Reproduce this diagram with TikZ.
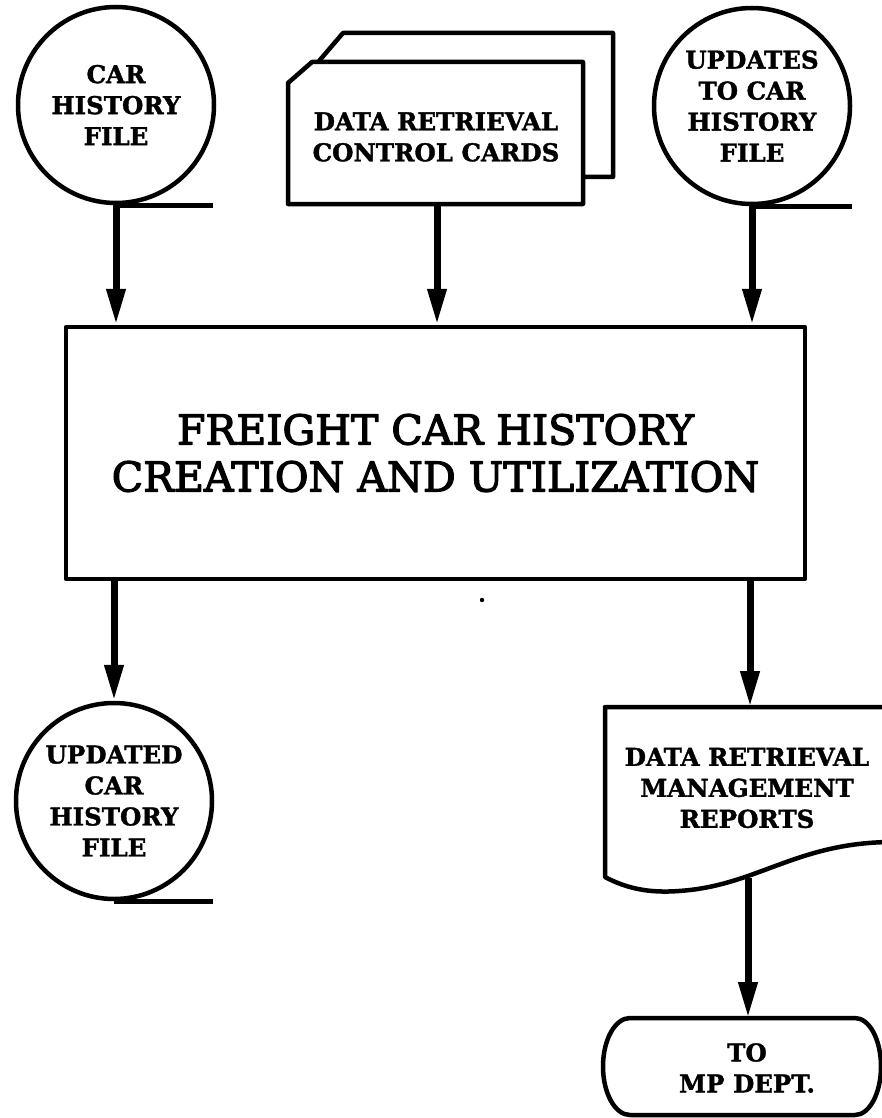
\documentclass[tikz,border=0pt]{standalone}
\usepackage{fontspec}
\setmainfont{DejaVu Serif}
\newfontfamily\boxfont[FakeBold=3]{DejaVu Serif}
\newfontfamily\lblfont[FakeBold=1.5]{DejaVu Serif Bold}
\usetikzlibrary{arrows.meta}
\begin{document}
\begin{tikzpicture}[x=1pt,y=1pt,
  lbl/.style={font=\lblfont\fontsize{24.5}{31}\selectfont, align=center, inner sep=0pt},
  ln/.style={line width=4.5pt, line join=round},
  filecircle/.style={circle, draw, ln, minimum size=196pt, inner sep=0pt, lbl},
  flow/.style={line width=7pt, -{Triangle[length=36pt,width=18pt]}},
  mainbox/.style={draw, ln, minimum width=739pt, minimum height=252pt, inner sep=0pt,
     font=\boxfont\fontsize{41}{47}\selectfont, align=center},
]
\useasboundingbox (0,0) rectangle (881,-1118);
% top-left file
\node[filecircle] (chf) at (116,-105) {CAR\\HISTORY\\FILE};
\draw[ln] (chf.south) -- ++(97,0);
% top-right file
\node[filecircle] (upd) at (752,-106) {UPDATES\\TO CAR\\HISTORY\\FILE};
\draw[ln] (upd.south) -- ++(100,0);
% cards
\draw[ln] (319,-61) -- (343,-33) -- (613,-33) -- (613,-177) -- (583,-177);
\draw[ln] (288,-83) -- (312,-62) -- (583,-62) -- (583,-204) -- (288,-204) -- cycle;
\node[lbl] (cards) at (436,-137) {DATA RETRIEVAL\\CONTROL CARDS};
\coordinate (cardsbot) at (437,-204);
% main process box
\node[mainbox] (proc) at (435.5,-453) {FREIGHT CAR HISTORY\\CREATION AND UTILIZATION};
% bottom-left file
\node[filecircle] (out) at (114,-801) {UPDATED\\CAR\\HISTORY\\FILE};
\draw[ln] (out.south) -- ++(99,0);
% document
\draw[ln] (890,-707) -- (605,-707) -- (605,-877)
  .. controls (635,-893) and (662,-893) .. (690,-890)
  .. controls (760,-882) and (800,-843) .. (890,-842);
\node[lbl] (doc) at (747,-788) {DATA RETRIEVAL\\MANAGEMENT\\REPORTS};
\coordinate (doctop) at (750,-707);
\coordinate (docbot) at (748,-878);
% terminal
\draw[ln] (630,-1018) -- (855,-1018) arc[start angle=90, end angle=-90, x radius=26, y radius=48.5]
  -- (630,-1115) arc[start angle=270, end angle=90, x radius=27, y radius=48.5] -- cycle;
\node[lbl] (term) at (747,-1068) {TO\\MP DEPT.};
\coordinate (termtop) at (748,-1018);
% connectors
\draw[flow] (chf.south) -- (proc.north -| chf.south);
\draw[flow] (cardsbot) -- (proc.north -| cardsbot);
\draw[flow] (upd.south) -- (proc.north -| upd.south);
\draw[flow] (proc.south -| out.north) -- (out.north);
\draw[flow] (proc.south -| doctop) -- (doctop);
\draw[flow] (docbot) -- (termtop);
% speck
\fill (482,-600) circle (2.2);
\end{tikzpicture}
\end{document}
